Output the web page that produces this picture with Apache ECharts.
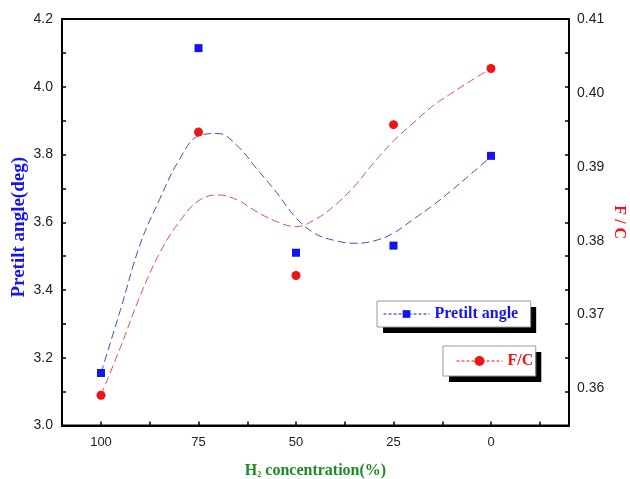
<!DOCTYPE html>
<html><head><meta charset="utf-8">
<script src="https://cdn.jsdelivr.net/npm/echarts@6/dist/echarts.min.js"></script>
<style>html,body{margin:0;padding:0;background:#fff}#c{width:630px;height:479px}</style>
</head><body><div id="c"></div>
<script>
// measured points
const concentration = [100, 75, 50, 25, 0];
const pretiltAngle = [3.155, 4.114, 3.510, 3.531, 3.796];
const fcRatio = [0.3591, 0.3947, 0.3753, 0.3957, 0.4033];
// fitted curves
const fitX = [100, 95, 90, 85, 80, 75, 70, 65, 60, 55, 50, 45, 40, 35, 30, 25, 20, 15, 10, 5, 0];
const pretiltFit = [3.155, 3.342, 3.534, 3.667, 3.783, 3.855, 3.862, 3.825, 3.757, 3.688, 3.613, 3.566, 3.546, 3.538, 3.545, 3.568, 3.608, 3.649, 3.695, 3.744, 3.794];
const fcFit = [0.3591, 0.3656, 0.3725, 0.3783, 0.3825, 0.3854, 0.3862, 0.3855, 0.3839, 0.3826, 0.3819, 0.3829, 0.3848, 0.3874, 0.3906, 0.3935, 0.3959, 0.3982, 0.4000, 0.4017, 0.4033];
// axis ticks / labels
const xTicks = [100, 87.5, 75, 62.5, 50, 37.5, 25, 12.5, 0, -12.5];
const xLabels = [100, 75, 50, 25, 0];
const leftLabels = [3.0, 3.2, 3.4, 3.6, 3.8, 4.0, 4.2];
const rightLabels = [0.36, 0.37, 0.38, 0.39, 0.40, 0.41];

const BLUE = '#1414f0', RED = '#f01414';
const zip = (xs, ys) => xs.map((x, i) => [x, ys[i]]);
const serif = '"Liberation Serif", "Times New Roman", serif';
const sans = '"Liberation Sans", Arial, sans-serif';

function legendPair(name, left, top, padding, itemHeight, color) {
  const base = {
    data: [name], left: left, top: top, orient: 'horizontal',
    padding: padding, itemWidth: 46, itemHeight: itemHeight, selectedMode: false,
    textStyle: {fontFamily: serif, fontWeight: 'bold', fontSize: 16, color: color}
  };
  return [
    Object.assign({}, base, {
      backgroundColor: '#fff', borderWidth: 0,
      shadowColor: '#000', shadowBlur: 0, shadowOffsetX: 6, shadowOffsetY: 6,
      lineStyle: {color: color, width: 1, type: [3, 2], opacity: 1}, z: 3
    }),
    Object.assign({}, base, {
      backgroundColor: 'transparent', borderColor: '#999', borderWidth: 1,
      itemStyle: {opacity: 0}, lineStyle: {opacity: 0},
      textStyle: Object.assign({}, base.textStyle, {color: 'rgba(0,0,0,0)'}), z: 4
    })
  ];
}

const chart = echarts.init(document.getElementById('c'), null, {renderer: 'canvas'});
chart.setOption({
  animation: false,
  backgroundColor: '#fff',
  grid: {left: 62, top: 19, right: 61, bottom: 53.5, containLabel: false, outerBoundsMode: 'none',
    show: true, borderColor: '#000', borderWidth: 2, backgroundColor: 'transparent'},
  xAxis: {
    type: 'value', inverse: true, min: -20, max: 110,
    axisLine: {onZero: false, lineStyle: {color: '#000', width: 2}},
    axisTick: {inside: true, length: 4, customValues: xTicks, lineStyle: {color: '#000', width: 1.5}},
    axisLabel: {customValues: xLabels, fontSize: 13, fontFamily: sans, color: '#222', margin: 10},
    splitLine: {show: false},
    name: 'H{sub|2} concentration(%)', nameLocation: 'middle', nameGap: 37, nameMoveOverlap: false,
    nameTextStyle: {fontFamily: serif, fontWeight: 'bold', fontSize: 16, color: '#1b8c22',
      rich: {sub: {fontFamily: serif, fontWeight: 'bold', fontSize: 8, color: '#1b8c22', verticalAlign: 'bottom'}}}
  },
  yAxis: [
    {
      type: 'value', position: 'left', min: 3.0, max: 4.2, interval: 0.1,
      axisLine: {show: true, onZero: false, lineStyle: {color: '#000', width: 2}},
      axisTick: {inside: true, length: 4, lineStyle: {color: '#000', width: 1.5}},
      axisLabel: {customValues: leftLabels, formatter: v => v.toFixed(1), fontSize: 14, fontFamily: sans, color: '#222', margin: 9},
      splitLine: {show: false},
      name: 'Pretilt angle(deg)', nameLocation: 'middle', nameGap: 33, nameRotate: 90, nameMoveOverlap: false,
      nameTextStyle: {fontFamily: serif, fontWeight: 'bold', fontSize: 19, color: BLUE, padding: [0, 10, 0, 0]}
    },
    {
      type: 'value', position: 'right', min: 3.0, max: 4.2, interval: 0.1,
      axisLine: {show: true, onZero: false, lineStyle: {color: '#000', width: 2}},
      axisTick: {inside: true, length: 4, lineStyle: {color: '#000', width: 1.5}},
      axisLabel: {show: false},
      splitLine: {show: false},
      name: 'F / C', nameLocation: 'middle', nameGap: 42, nameRotate: -90, nameMoveOverlap: false,
      nameTextStyle: {fontFamily: serif, fontWeight: 'bold', fontSize: 16, color: RED}
    },
    {
      type: 'value', position: 'right', min: 0.355, max: 0.41,
      axisLine: {show: false, onZero: false}, axisTick: {show: false},
      axisLabel: {customValues: rightLabels, formatter: v => v.toFixed(2), fontSize: 14, fontFamily: sans, color: '#222', margin: 8},
      splitLine: {show: false}
    }
  ],
  legend: [].concat(
    legendPair('Pretilt angle', 377, 301, [5, 12, 5, 6], 9.6, BLUE),
    legendPair('F/C', 443, 346, [7, 2, 7, 13], 12.5, RED)
  ),
  series: [
    {
      name: 'Pretilt angle fit', type: 'line', xAxisIndex: 0, yAxisIndex: 0,
      data: zip(fitX, pretiltFit), smooth: 0.4, showSymbol: false, silent: true,
      lineStyle: {color: '#4848d0', width: 1, type: [8, 4]}, z: 2
    },
    {
      name: 'F/C fit', type: 'line', xAxisIndex: 0, yAxisIndex: 2,
      data: zip(fitX, fcFit), smooth: 0.4, showSymbol: false, silent: true,
      lineStyle: {color: '#e05050', width: 1, type: [8, 4]}, z: 2
    },
    {
      name: 'Pretilt angle', type: 'line', xAxisIndex: 0, yAxisIndex: 0,
      data: zip(concentration, pretiltAngle), symbol: 'rect', symbolSize: 8,
      itemStyle: {color: BLUE}, lineStyle: {opacity: 0, color: BLUE}, z: 5
    },
    {
      name: 'F/C', type: 'line', xAxisIndex: 0, yAxisIndex: 2,
      data: zip(concentration, fcRatio), symbol: 'circle', symbolSize: 9,
      itemStyle: {color: RED}, lineStyle: {opacity: 0, color: RED}, z: 5
    }
  ]
});
</script></body></html>
